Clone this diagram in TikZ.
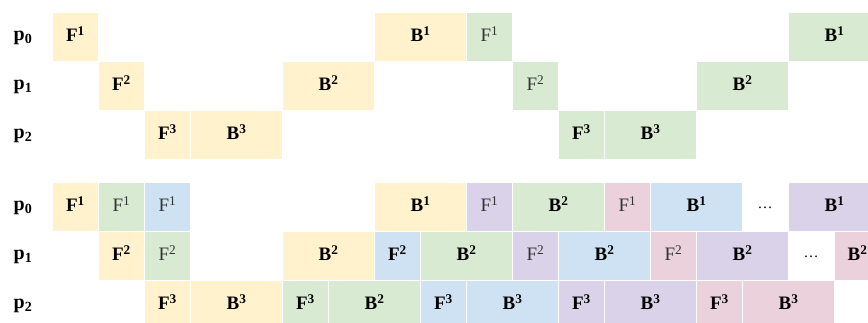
\documentclass[tikz,border=0pt]{standalone}
\usepackage{fontspec}
\setmainfont{Liberation Serif}
\usetikzlibrary{positioning}
\definecolor{PYellow}{HTML}{FFF2CC}
\definecolor{PGreen}{HTML}{D9EAD3}
\definecolor{PBlue}{HTML}{CFE2F3}
\definecolor{PPurple}{HTML}{D9D2E9}
\definecolor{PPink}{HTML}{EAD1DC}
\definecolor{PText}{HTML}{333333}
\begin{document}
\begin{tikzpicture}[
  x=1pt,y=-1pt,
  cell/.style={anchor=north west,draw=white,line width=1pt,inner sep=0pt,minimum width=46pt,minimum height=49pt,text depth=6pt,font=\fontsize{19}{22}\selectfont\bfseries},
  wide/.style={minimum width=92pt},
  plain/.style={font=\fontsize{19}{22}\selectfont,text=PText},
  yel/.style={cell,fill=PYellow},
  grn/.style={cell,fill=PGreen},
  blu/.style={cell,fill=PBlue},
  pur/.style={cell,fill=PPurple},
  pnk/.style={cell,fill=PPink},
  lab/.style={inner sep=0pt,font=\fontsize{20}{22}\selectfont\bfseries},
  dots/.style={inner sep=0pt,font=\fontsize{15}{18}\selectfont}
]
\useasboundingbox (0,0) rectangle (868,322);
% upper schedule
\node[lab] (u0) at (23,38) {p\textsubscript{0}};
\node[lab] (u1) at (23,87) {p\textsubscript{1}};
\node[lab] (u2) at (23,136) {p\textsubscript{2}};
\node[yel] (u0-0) at (52,12) {F\textsuperscript{1}};
\node[yel,wide] (u0-7) at (374,12) {B\textsuperscript{1}};
\node[grn,plain] (u0-9) at (466,12) {F\textsuperscript{1}};
\node[grn,wide] (u0-16) at (788,12) {B\textsuperscript{1}};
\node[yel] (u1-1) at (98,61) {F\textsuperscript{2}};
\node[yel,wide] (u1-5) at (282,61) {B\textsuperscript{2}};
\node[grn,plain] (u1-10) at (512,61) {F\textsuperscript{2}};
\node[grn,wide] (u1-14) at (696,61) {B\textsuperscript{2}};
\node[yel] (u2-2) at (144,110) {F\textsuperscript{3}};
\node[yel,wide] (u2-3) at (190,110) {B\textsuperscript{3}};
\node[grn] (u2-11) at (558,110) {F\textsuperscript{3}};
\node[grn,wide] (u2-12) at (604,110) {B\textsuperscript{3}};
% lower schedule
\node[lab] (d0) at (23,208) {p\textsubscript{0}};
\node[lab] (d1) at (23,257) {p\textsubscript{1}};
\node[lab] (d2) at (23,306) {p\textsubscript{2}};
\node[yel] (d0-0) at (52,182) {F\textsuperscript{1}};
\node[grn,plain] (d0-1) at (98,182) {F\textsuperscript{1}};
\node[blu,plain] (d0-2) at (144,182) {F\textsuperscript{1}};
\node[yel,wide] (d0-7) at (374,182) {B\textsuperscript{1}};
\node[pur,plain] (d0-9) at (466,182) {F\textsuperscript{1}};
\node[grn,wide] (d0-10) at (512,182) {B\textsuperscript{2}};
\node[pnk,plain] (d0-12) at (604,182) {F\textsuperscript{1}};
\node[blu,wide] (d0-13) at (650,182) {B\textsuperscript{1}};
\node[dots] (d0-15) at (765,208) {\dots};
\node[pur,wide] (d0-16) at (788,182) {B\textsuperscript{1}};
\node[yel] (d1-1) at (98,231) {F\textsuperscript{2}};
\node[grn,plain] (d1-2) at (144,231) {F\textsuperscript{2}};
\node[yel,wide] (d1-5) at (282,231) {B\textsuperscript{2}};
\node[blu] (d1-7) at (374,231) {F\textsuperscript{2}};
\node[grn,wide] (d1-8) at (420,231) {B\textsuperscript{2}};
\node[pur,plain] (d1-10) at (512,231) {F\textsuperscript{2}};
\node[blu,wide] (d1-11) at (558,231) {B\textsuperscript{2}};
\node[pnk,plain] (d1-13) at (650,231) {F\textsuperscript{2}};
\node[pur,wide] (d1-14) at (696,231) {B\textsuperscript{2}};
\node[dots] (d1-16) at (811,257) {\dots};
\node[pnk] (d1-17) at (834,231) {B\textsuperscript{2}};
\node[yel] (d2-2) at (144,280) {F\textsuperscript{3}};
\node[yel,wide] (d2-3) at (190,280) {B\textsuperscript{3}};
\node[grn] (d2-5) at (282,280) {F\textsuperscript{3}};
\node[grn,wide] (d2-6) at (328,280) {B\textsuperscript{2}};
\node[blu] (d2-8) at (420,280) {F\textsuperscript{3}};
\node[blu,wide] (d2-9) at (466,280) {B\textsuperscript{3}};
\node[pur] (d2-11) at (558,280) {F\textsuperscript{3}};
\node[pur,wide] (d2-12) at (604,280) {B\textsuperscript{3}};
\node[pnk] (d2-14) at (696,280) {F\textsuperscript{3}};
\node[pnk,wide] (d2-15) at (742,280) {B\textsuperscript{3}};
\end{tikzpicture}
\end{document}
